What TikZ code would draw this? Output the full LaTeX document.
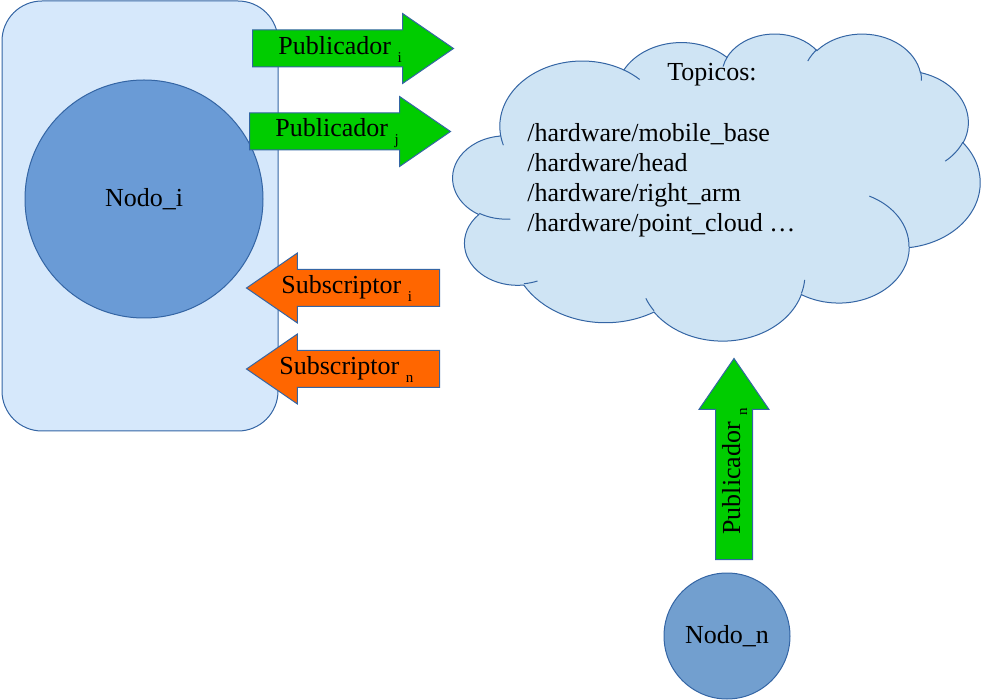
\documentclass[tikz,border=0pt]{standalone}
\usepackage{fontspec}
\setmainfont{Liberation Serif}
\usetikzlibrary{shapes.arrows}
\definecolor{edge}{HTML}{3465A4}
\definecolor{boxblue}{HTML}{D6E8FB}
\definecolor{nodeblue}{HTML}{6A9BD6}
\definecolor{nodebluen}{HTML}{729FCF}
\definecolor{cloudblue}{HTML}{CFE4F4}
\definecolor{pubgreen}{HTML}{00CC00}
\definecolor{suborange}{HTML}{FF6600}
\newcommand{\lowidx}[1]{\raisebox{-0.6ex}{\fontsize{7.5}{8}\selectfont #1}}

\begin{document}
\begin{tikzpicture}[x=0.5pt,y=-0.5pt,
    txt/.style={font=\fontsize{13}{15}\selectfont, inner sep=0pt},
    outline/.style={draw=edge, line width=0.5pt},
    blockarrow/.style={shape=single arrow, outline, inner sep=9pt,
        single arrow head extend=8.25pt, single arrow tip angle=69, anchor=tail},
    pub/.style={blockarrow, fill=pubgreen, minimum height=100.5pt},
    subs/.style={blockarrow, fill=suborange, minimum height=96.5pt, shape border rotate=180}]
    \useasboundingbox (0,0) rectangle (981,700);
    % Nodo_i
    \node[outline, fill=boxblue, rounded corners=20pt, minimum width=138pt, minimum height=215pt] (box) at (140,216) {};
    \node[shape=circle, outline, fill=nodeblue, minimum size=119pt, txt] (nodoi) at (144,199) {Nodo\_i};
    % topic cloud (puffs as elliptic arcs)
    \begin{scope}[shift={(453,33)}, x=0.60995pt, y=-0.35532pt]
        \draw[outline, fill=cloudblue] (39.00,143.70)
            \foreach \wr/\hr/\st/\sw [evaluate=\st as \tstart using {atan2(\wr*sin(\st),\hr*cos(\st))},
                evaluate=\st as \tend using {atan2(\wr*sin(\st+\sw),\hr*cos(\st+\sw))},
                evaluate=\st as \tdelta using {mod(\tend-\tstart+720,360)}] in
                {67.53/91.90/-190.4875/123.7805, 53.33/72.67/-144.1024/89.9452,
                 43.65/59.45/-145.8079/99.7230, 48.57/65.95/-130.9861/117.2417,
                 53.33/72.73/-78.7089/109.0269, 67.75/92.20/-46.2673/130.2690,
                 57.85/78.67/0.6250/114.0333, 67.52/92.15/22.4516/115.1726,
                 77.20/105.43/66.2426/75.7110, 43.60/59.18/-274.9421/146.7356,
                 43.45/59.45/-246.8285/152.5189}
            {arc[start angle=\tstart, delta angle=\tdelta, x radius=\wr, y radius=\hr]} -- cycle;
        \draw[outline]
            \foreach \px/\py/\wr/\hr/\st/\sw [evaluate=\st as \tstart using {atan2(\wr*sin(\st),\hr*cos(\st))},
                evaluate=\st as \tend using {atan2(\wr*sin(\st+\sw),\hr*cos(\st+\sw))},
                evaluate=\st as \tdelta using {mod(\tend-\tstart+720,360)}] in
                {46.93/261.77/43.45/59.45/86.7420/26.4295, 69.28/348.99/43.60/59.18/73.6105/11.4475,
                 164.78/390.90/67.52/92.15/137.6242/14.0811, 288.27/347.51/67.52/92.15/6.4533/15.9984,
                 341.29/229.54/57.85/78.67/-70.2924/70.9174, 417.98/153.54/53.33/72.73/30.3180/27.7515,
                 383.24/54.26/48.57/65.95/-13.7443/14.8589, 290.78/39.52/48.57/65.95/-149.1815/18.1954,
                 221.41/47.20/43.65/59.45/-163.4943/17.6864, 140.00/51.92/67.53/91.90/-66.7070/12.3194,
                 41.27/157.89/67.53/91.90/157.6544/11.8582}
            {(\px,\py) arc[start angle=\tstart, delta angle=\tdelta, x radius=\wr, y radius=\hr]};
    \end{scope}
    \node[txt, anchor=base west] (topicos) at (667,81) {Topicos:};
    \node[txt, anchor=base west] (t1) at (527,142) {/hardware/mobile\_base};
    \node[txt, anchor=base west] (t2) at (527,172) {/hardware/head};
    \node[txt, anchor=base west] (t3) at (527,202) {/hardware/right\_arm};
    \node[txt, anchor=base west] (t4) at (527,232) {/hardware/point\_cloud …};
    % publishers and subscribers
    \node[pub] (pubi) at (252,48.5) {};
    \node[txt, anchor=base west] (pubitxt) at (278,55) {Publicador \lowidx{i}};
    \node[pub] (pubj) at (249,131.5) {};
    \node[txt, anchor=base west] (pubjtxt) at (275,137) {Publicador \lowidx{j}};
    \node[subs] (subi) at (440,288) {};
    \node[txt, anchor=base west] (subitxt) at (281,294) {Subscriptor \lowidx{i}};
    \node[subs] (subn) at (440,369) {};
    \node[txt, anchor=base west] (subntxt) at (279,375) {Subscriptor \lowidx{n}};
    % Nodo_n
    \node[pub, shape border rotate=90] (pubn) at (734,560) {};
    \node[txt, anchor=base west, rotate=90] (pubntxt) at (740,535) {Publicador \lowidx{n}};
    \node[shape=circle, outline, fill=nodebluen, minimum size=63pt, txt] (nodon) at (727,636) {Nodo\_n};
\end{tikzpicture}
\end{document}
